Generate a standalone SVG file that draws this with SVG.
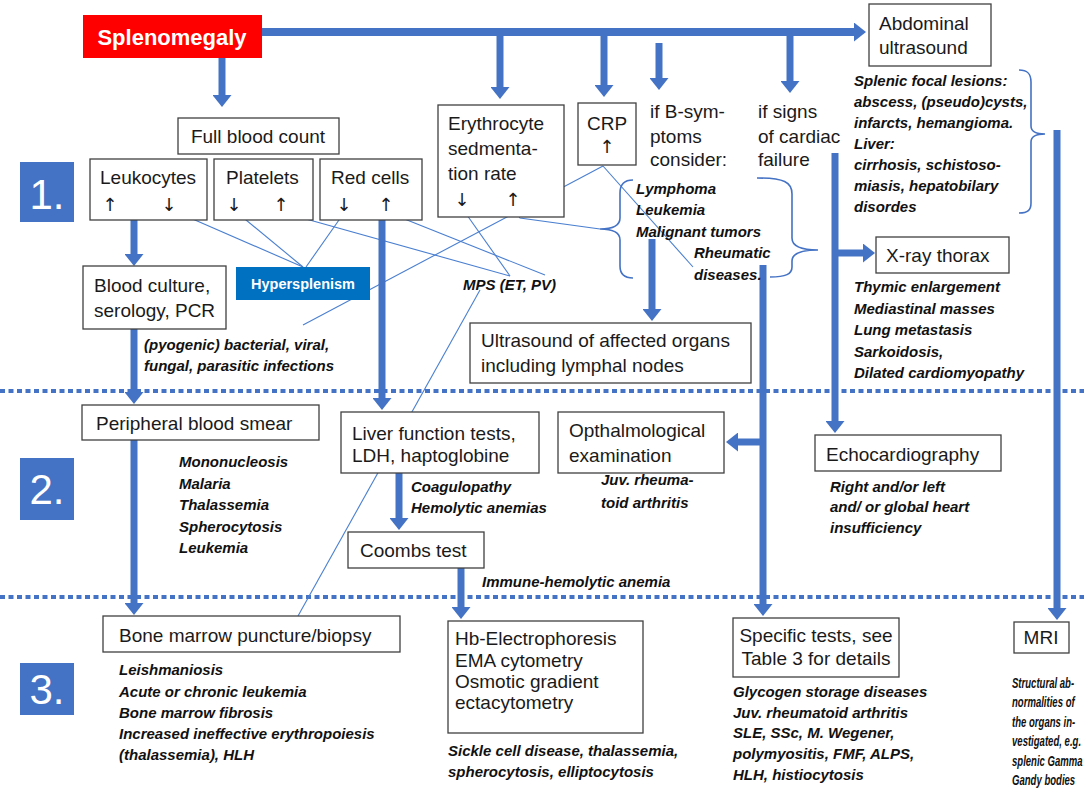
<svg xmlns="http://www.w3.org/2000/svg" width="1084" height="792" viewBox="0 0 1084 792">
<style>
.bx{fill:#fff;stroke:#404040;stroke-width:1.3}
.t{font-family:"Liberation Sans","DejaVu Sans",Arial,sans-serif;font-size:19px;fill:#1a1a1a}
.ar{font-family:"DejaVu Sans",sans-serif;font-size:18px;fill:#1a1a1a;text-anchor:middle}
.bi{font-family:"Liberation Sans","DejaVu Sans",Arial,sans-serif;font-size:15px;font-weight:bold;font-style:italic;fill:#111}
.num{fill:#4472c4}
.nt{font-family:"Liberation Sans","DejaVu Sans",Arial,sans-serif;font-size:42px;fill:#fff;text-anchor:middle}
.arr{stroke:#4472c4;stroke-width:7;fill:none;marker-end:url(#ah)}
.thin{stroke:#4a7fd0;stroke-width:1.1;fill:none}
.brace{stroke:#4472c4;stroke-width:1.6;fill:none}
.dot{stroke:#4472c4;stroke-width:4;stroke-dasharray:5 3.5;fill:none}
</style>
<defs>
<marker id="ah" markerUnits="userSpaceOnUse" markerWidth="12" markerHeight="19" viewBox="0 0 12 19" refX="1" refY="9.5" orient="auto">
<path d="M0,0 L12,9.5 L0,19 z" fill="#4472c4"/>
</marker>
</defs>
<rect width="1084" height="792" fill="#fff"/>

<g id="connectors">
<line class="dot" x1="0" y1="391" x2="1084" y2="391"/>
<line class="dot" x1="0" y1="597" x2="1084" y2="597"/>
<line class="thin" x1="172" y1="210" x2="303" y2="267"/>
<line class="thin" x1="234" y1="210" x2="303" y2="267"/>
<line class="thin" x1="346" y1="210" x2="306" y2="267"/>
<line class="thin" x1="281" y1="212" x2="510" y2="276"/>
<line class="thin" x1="387" y1="212" x2="545" y2="275"/>
<line class="thin" x1="462" y1="208" x2="510" y2="276"/>
<polyline class="thin" points="513,208 520,218 600,229"/>
<line class="thin" x1="603" y1="166" x2="303" y2="325"/>
<line class="thin" x1="603" y1="166" x2="693" y2="267"/>
<line class="thin" x1="480" y1="290" x2="298" y2="616"/>
<path class="brace" d="M633,180 C624,180 620,184 620,193 L620,218 C620,225 614,229 600,229 C614,229 620,233 620,240 L620,266 C620,274 624,278 633,278"/>
<path class="brace" d="M757,178 C784,178 792,182 792,194 L792,238 C792,246 800,250 818,250 C800,250 792,254 792,261 L792,267 C792,274 786,277 770,277"/>
<path class="brace" d="M1019,70 C1028,70 1031,74 1031,82 L1031,126 C1031,131 1035,134 1045,134 C1035,134 1031,137 1031,142 L1031,203 C1031,210 1028,213 1019,213"/>
<line class="arr" x1="262" y1="32" x2="855" y2="32" style="stroke-width:8"/>
<line class="arr" x1="222" y1="58" x2="222" y2="96"/>
<line class="arr" x1="500" y1="32" x2="500" y2="88"/>
<line class="arr" x1="604" y1="32" x2="604" y2="86"/>
<line class="arr" x1="659" y1="43" x2="659" y2="79"/>
<line class="arr" x1="790" y1="32" x2="790" y2="82"/>
<line class="arr" x1="134" y1="220" x2="134" y2="255"/>
<line class="arr" x1="134" y1="329" x2="134" y2="393"/>
<line class="arr" x1="134" y1="440" x2="134" y2="604"/>
<line class="arr" x1="382" y1="220" x2="382" y2="399"/>
<line class="arr" x1="399" y1="473" x2="399" y2="519"/>
<line class="arr" x1="461" y1="568" x2="461" y2="608"/>
<line class="arr" x1="652" y1="239" x2="652" y2="310"/>
<line class="arr" x1="763" y1="265" x2="763" y2="605"/>
<line class="arr" x1="763" y1="442" x2="737" y2="442"/>
<line class="arr" x1="835" y1="153" x2="835" y2="422"/>
<line class="arr" x1="835" y1="253" x2="864" y2="253"/>
<line class="arr" x1="1057" y1="130" x2="1057" y2="609"/>
</g>

<g id="level-markers">
<rect class="num" x="20" y="162" width="54" height="60"/>
<text class="nt" x="47" y="209">1.</text>
<rect class="num" x="20" y="458" width="54" height="62"/>
<text class="nt" x="47" y="504">2.</text>
<rect class="num" x="20" y="663" width="54" height="52"/>
<text class="nt" x="47" y="704">3.</text>
</g>

<g id="splenomegaly">
<rect x="83" y="15" width="179" height="43" fill="#ff0000"/>
<text x="172" y="45" text-anchor="middle" style="font-family:'Liberation Sans',Arial,sans-serif;font-size:22px;font-weight:bold;fill:#fff">Splenomegaly</text>
</g>

<g id="abdominal-ultrasound">
<rect class="bx" x="869" y="4" width="122" height="62"/>
<text class="t" x="879" y="30">Abdominal</text>
<text class="t" x="879" y="54">ultrasound</text>
</g>
<g id="abdominal-findings">
<text class="bi" x="854" y="86">Splenic focal lesions:</text>
<text class="bi" x="854" y="107">abscess, (pseudo)cysts,</text>
<text class="bi" x="854" y="128">infarcts, hemangioma.</text>
<text class="bi" x="854" y="149">Liver:</text>
<text class="bi" x="854" y="170">cirrhosis, schistoso-</text>
<text class="bi" x="854" y="191">miasis, hepatobilary</text>
<text class="bi" x="854" y="212">disordes</text>
</g>

<g id="full-blood-count">
<rect class="bx" x="178" y="118" width="161" height="36"/>
<text class="t" x="258" y="143" text-anchor="middle">Full blood count</text>
</g>
<g id="leukocytes">
<rect class="bx" x="90" y="159" width="117" height="61"/>
<text class="t" x="100" y="184">Leukocytes</text>
<text class="ar" x="110" y="211">↑</text>
<text class="ar" x="169" y="211">↓</text>
</g>
<g id="platelets">
<rect class="bx" x="214" y="159" width="99" height="61"/>
<text class="t" x="226" y="184">Platelets</text>
<text class="ar" x="234" y="211">↓</text>
<text class="ar" x="281" y="211">↑</text>
</g>
<g id="red-cells">
<rect class="bx" x="320" y="159" width="102" height="61"/>
<text class="t" x="331" y="184">Red cells</text>
<text class="ar" x="344" y="211">↓</text>
<text class="ar" x="386" y="211">↑</text>
</g>
<g id="esr">
<rect class="bx" x="438" y="105" width="126" height="112"/>
<text class="t" x="448" y="130">Erythrocyte</text>
<text class="t" x="448" y="155">sedmenta-</text>
<text class="t" x="448" y="180">tion rate</text>
<text class="ar" x="462" y="206">↓</text>
<text class="ar" x="513" y="206">↑</text>
</g>
<g id="crp">
<rect class="bx" x="578" y="103" width="58" height="62"/>
<text class="t" x="607" y="130" text-anchor="middle">CRP</text>
<text class="ar" x="607" y="153">↑</text>
</g>
<g id="b-symptoms">
<text class="t" x="650" y="118">if B-sym-</text>
<text class="t" x="650" y="143">ptoms</text>
<text class="t" x="650" y="166">consider:</text>
</g>
<g id="b-symptoms-list">
<text class="bi" x="636" y="194">Lymphoma</text>
<text class="bi" x="636" y="215">Leukemia</text>
<text class="bi" x="636" y="237">Malignant tumors</text>
<text class="bi" x="694" y="258">Rheumatic</text>
<text class="bi" x="694" y="280">diseases.</text>
</g>
<g id="cardiac">
<text class="t" x="758" y="118">if signs</text>
<text class="t" x="758" y="143">of cardiac</text>
<text class="t" x="758" y="166">failure</text>
</g>

<g id="blood-culture">
<rect class="bx" x="83" y="266" width="143" height="63"/>
<text class="t" x="94" y="292">Blood culture,</text>
<text class="t" x="94" y="317">serology,  PCR</text>
</g>
<g id="infections">
<text class="bi" x="144" y="350">(pyogenic) bacterial, viral,</text>
<text class="bi" x="144" y="371">fungal, parasitic infections</text>
</g>
<g id="hypersplenism">
<rect x="236" y="267" width="134" height="33" fill="#0070c0"/>
<text x="303" y="289" text-anchor="middle" style="font-family:'Liberation Sans',Arial,sans-serif;font-size:14.5px;font-weight:bold;fill:#fff">Hypersplenism</text>
</g>
<g id="mps">
<text class="bi" x="463" y="290">MPS (ET, PV)</text>
</g>
<g id="ultrasound-organs">
<rect class="bx" x="470" y="323" width="281" height="60"/>
<text class="t" x="481" y="347">Ultrasound of affected organs</text>
<text class="t" x="481" y="372">including lymphal nodes</text>
</g>
<g id="xray">
<rect class="bx" x="876" y="237" width="133" height="36"/>
<text class="t" x="886" y="262">X-ray thorax</text>
</g>
<g id="xray-findings">
<text class="bi" x="854" y="292">Thymic enlargement</text>
<text class="bi" x="854" y="313.5">Mediastinal masses</text>
<text class="bi" x="854" y="335">Lung metastasis</text>
<text class="bi" x="854" y="356.5">Sarkoidosis,</text>
<text class="bi" x="854" y="378">Dilated cardiomyopathy</text>
</g>

<g id="peripheral-smear">
<rect class="bx" x="82" y="405" width="237" height="35"/>
<text class="t" x="96" y="430">Peripheral  blood smear</text>
</g>
<g id="smear-findings">
<text class="bi" x="179" y="467">Mononucleosis</text>
<text class="bi" x="179" y="489">Malaria</text>
<text class="bi" x="179" y="510">Thalassemia</text>
<text class="bi" x="179" y="532">Spherocytosis</text>
<text class="bi" x="179" y="553">Leukemia</text>
</g>
<g id="liver-tests">
<rect class="bx" x="341" y="412" width="198" height="61"/>
<text class="t" x="352" y="440">Liver function tests,</text>
<text class="t" x="352" y="462">LDH, haptoglobine</text>
</g>
<g id="liver-findings">
<text class="bi" x="411" y="492">Coagulopathy</text>
<text class="bi" x="411" y="513">Hemolytic anemias</text>
</g>
<g id="coombs">
<rect class="bx" x="348" y="532" width="136" height="36"/>
<text class="t" x="360" y="557">Coombs test</text>
</g>
<g id="coombs-findings">
<text class="bi" x="482" y="587">Immune-hemolytic anemia</text>
</g>
<g id="ophthalmology">
<rect class="bx" x="558" y="412" width="166" height="61"/>
<text class="t" x="569" y="437">Opthalmological</text>
<text class="t" x="569" y="462">examination</text>
</g>
<g id="ophthalmology-findings">
<text class="bi" x="601" y="485">Juv. rheuma-</text>
<text class="bi" x="601" y="508">toid arthritis</text>
</g>
<g id="echocardiography">
<rect class="bx" x="815" y="435" width="186" height="36"/>
<text class="t" x="826" y="461">Echocardiography</text>
</g>
<g id="echo-findings">
<text class="bi" x="830" y="492">Right and/or left</text>
<text class="bi" x="830" y="512">and/ or global heart</text>
<text class="bi" x="830" y="533">insufficiency</text>
</g>

<g id="bone-marrow">
<rect class="bx" x="103" y="616" width="297" height="36"/>
<text class="t" x="119" y="642">Bone marrow puncture/biopsy</text>
</g>
<g id="bone-marrow-findings">
<text class="bi" x="119" y="675">Leishmaniosis</text>
<text class="bi" x="119" y="697">Acute or chronic leukemia</text>
<text class="bi" x="119" y="718">Bone marrow fibrosis</text>
<text class="bi" x="119" y="739">Increased ineffective erythropoiesis</text>
<text class="bi" x="119" y="760">(thalassemia), HLH</text>
</g>
<g id="hb-electrophoresis">
<rect class="bx" x="448" y="621" width="195" height="112"/>
<text class="t" x="455" y="645">Hb-Electrophoresis</text>
<text class="t" x="455" y="667">EMA cytometry</text>
<text class="t" x="455" y="688">Osmotic gradient</text>
<text class="t" x="455" y="709">ectacytometry</text>
</g>
<g id="hb-findings">
<text class="bi" x="448" y="756">Sickle cell disease, thalassemia,</text>
<text class="bi" x="448" y="777">spherocytosis, elliptocytosis</text>
</g>
<g id="specific-tests">
<rect class="bx" x="733" y="618" width="166" height="59"/>
<text class="t" x="816" y="642" text-anchor="middle">Specific tests, see</text>
<text class="t" x="816" y="665" text-anchor="middle">Table 3 for details</text>
</g>
<g id="specific-findings">
<text class="bi" x="733" y="697">Glycogen storage diseases</text>
<text class="bi" x="733" y="718">Juv. rheumatoid arthritis</text>
<text class="bi" x="733" y="738">SLE, SSc, M. Wegener,</text>
<text class="bi" x="733" y="759">polymyositis, FMF, ALPS,</text>
<text class="bi" x="733" y="780">HLH, histiocytosis</text>
</g>
<g id="mri">
<rect class="bx" x="1014" y="622" width="55" height="31"/>
<text class="t" x="1041" y="644" text-anchor="middle">MRI</text>
</g>
<g id="mri-findings" transform="translate(1012,0) scale(0.66,1)">
<text class="bi" x="0" y="688" style="font-size:14.5px">Structural ab-</text>
<text class="bi" x="0" y="707.5" style="font-size:14.5px">normalities of</text>
<text class="bi" x="0" y="727" style="font-size:14.5px">the organs in-</text>
<text class="bi" x="0" y="746.5" style="font-size:14.5px">vestigated, e.g.</text>
<text class="bi" x="0" y="766" style="font-size:14.5px">splenic Gamma</text>
<text class="bi" x="0" y="785.5" style="font-size:14.5px">Gandy bodies</text>
</g>
</svg>
